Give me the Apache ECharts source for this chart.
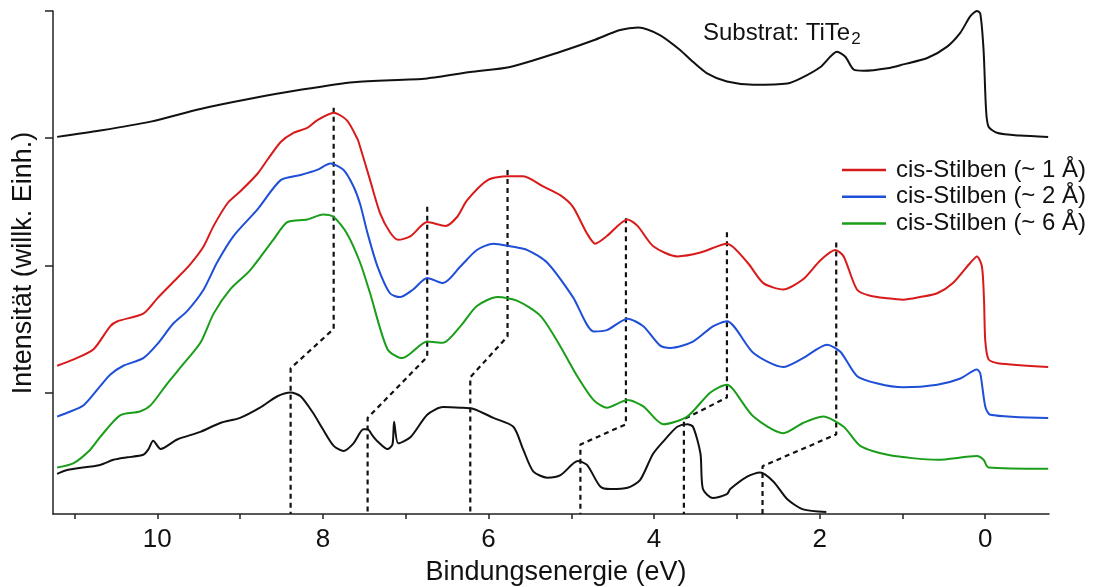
<!DOCTYPE html>
<html>
<head>
<meta charset="utf-8">
<script src="https://cdn.jsdelivr.net/npm/echarts@6/dist/echarts.min.js"></script>
<style>
  html, body { margin: 0; padding: 0; background: #fff; }
  #chart { width: 1094px; height: 587px; }
</style>
</head>
<body>
<div id="chart"></div>
<script>
// Photoemission spectra: binding energy (eV) vs. intensity (arb. units, offset per curve)

// Clean TiTe2 substrate
const substrat = [
  [11.21,2.01],[10.69,2.06],[10.08,2.13],[9.48,2.23],[8.88,2.31],[8.27,2.38],[7.63,2.44],
  [6.74,2.47],[6.22,2.52],[5.74,2.56],[5.13,2.68],[4.73,2.77],[4.41,2.85],[4.19,2.87],
  [3.93,2.81],[3.68,2.69],[3.53,2.60],[3.36,2.51],[3.12,2.445],[2.80,2.42],[2.39,2.43],
  [2.23,2.47],[1.99,2.56],[1.79,2.68],[1.69,2.64],[1.59,2.54],[1.47,2.53],[1.18,2.55],
  [0.99,2.58],[0.70,2.63],[0.46,2.72],[0.30,2.83],[0.18,2.96],[0.10,3.00],[0.06,2.98],
  [0.02,2.69],[-0.01,2.22],[-0.04,2.09],[-0.15,2.04],[-0.42,2.02],[-0.76,2.01]
];

// cis-stilbene, ~1 Å coverage
const cis1 = [
  [11.21,0.21],[11.01,0.26],[10.77,0.34],[10.57,0.52],[10.48,0.56],[10.17,0.62],[10.00,0.74],
  [9.76,0.90],[9.60,1.01],[9.44,1.15],[9.32,1.31],[9.15,1.49],[9.00,1.58],
  [8.79,1.72],[8.67,1.83],[8.51,1.97],[8.36,2.04],[8.19,2.08],[8.07,2.14],[7.87,2.20],
  [7.71,2.14],[7.58,1.99],[7.55,1.93],[7.43,1.67],[7.31,1.41],[7.19,1.26],[7.09,1.20],
  [6.94,1.23],[6.74,1.34],[6.52,1.31],[6.38,1.38],[6.26,1.51],[6.01,1.67],[5.77,1.70],
  [5.58,1.70],[5.34,1.62],[5.13,1.55],[4.98,1.46],[4.81,1.25],[4.71,1.17],[4.57,1.23],
  [4.32,1.36],[4.20,1.31],[4.01,1.15],[3.72,1.07],[3.44,1.10],[3.12,1.17],[2.87,1.02],
  [2.68,0.86],[2.44,0.81],[2.20,0.89],[1.99,1.04],[1.81,1.12],[1.71,1.07],[1.55,0.81],
  [1.39,0.76],[1.18,0.74],[0.99,0.73],[0.79,0.75],[0.58,0.78],[0.39,0.86],[0.18,1.02],
  [0.10,1.07],[0.04,0.99],[0.015,0.73],[0.0,0.41],[-0.04,0.26],[-0.15,0.23],[-0.76,0.20]
];

// cis-stilbene, ~2 Å coverage
const cis2 = [
  [11.21,-0.19],[11.09,-0.16],[10.89,-0.10],[10.69,0.05],[10.57,0.14],[10.41,0.21],[10.17,0.27],
  [10.00,0.38],[9.81,0.54],[9.64,0.64],[9.44,0.81],[9.28,1.02],[9.08,1.23],[8.79,1.44],
  [8.51,1.67],[8.27,1.71],[8.07,1.75],[7.91,1.80],[7.75,1.75],[7.63,1.62],[7.55,1.48],
  [7.46,1.25],[7.34,0.99],[7.19,0.78],[7.07,0.75],[6.91,0.81],[6.74,0.90],[6.55,0.86],
  [6.34,0.99],[6.14,1.12],[5.94,1.17],[5.74,1.15],[5.53,1.12],[5.29,1.02],[4.98,0.75],
  [4.73,0.48],[4.57,0.49],[4.32,0.58],[4.13,0.52],[3.93,0.37],[3.80,0.35],[3.53,0.40],
  [3.29,0.52],[3.12,0.56],[2.80,0.31],[2.44,0.20],[2.20,0.27],[1.91,0.375],[1.75,0.32],
  [1.55,0.13],[1.30,0.07],[0.99,0.04],[0.58,0.06],[0.30,0.11],[0.10,0.18],[0.06,0.15],
  [0.0,-0.11],[-0.06,-0.175],[-0.76,-0.20]
];

// cis-stilbene, ~6 Å coverage
const cis6 = [
  [11.21,-0.59],[11.01,-0.555],[10.81,-0.45],[10.69,-0.35],[10.45,-0.18],[10.21,-0.15],[10.08,-0.10],
  [9.88,0.07],[9.69,0.22],[9.48,0.39],[9.32,0.62],[9.12,0.81],[8.88,0.96],[8.60,1.20],
  [8.43,1.34],[8.19,1.36],[8.00,1.40],[7.87,1.38],[7.71,1.25],[7.55,1.02],[7.43,0.78],
  [7.22,0.34],[7.04,0.27],[6.74,0.40],[6.55,0.39],[6.34,0.52],[6.14,0.68],[5.89,0.75],
  [5.65,0.72],[5.37,0.60],[5.13,0.36],[4.93,0.13],[4.73,-0.06],[4.57,-0.12],[4.32,-0.06],
  [4.13,-0.11],[3.89,-0.25],[3.60,-0.19],[3.32,0.00],[3.12,0.06],[3.04,0.02],[2.80,-0.19],
  [2.44,-0.32],[2.20,-0.24],[1.96,-0.19],[1.71,-0.27],[1.51,-0.42],[1.18,-0.49],[0.58,-0.53],
  [0.10,-0.50],[0.02,-0.53],[-0.04,-0.59],[-0.76,-0.60]
];

// Reference spectrum of the free molecule
const referenz = [
  [11.21,-0.64],[11.09,-0.61],[10.69,-0.57],[10.53,-0.53],[10.36,-0.51],[10.17,-0.49],[10.11,-0.45],
  [10.05,-0.38],[9.96,-0.445],[9.76,-0.37],[9.48,-0.31],[9.24,-0.24],[9.00,-0.20],[8.76,-0.12],
  [8.55,-0.03],[8.39,0.00],[8.27,-0.03],[8.12,-0.16],[8.00,-0.29],[7.87,-0.42],[7.75,-0.46],
  [7.63,-0.40],[7.51,-0.29],[7.46,-0.29],[7.40,-0.34],[7.34,-0.385],[7.22,-0.445],[7.16,-0.41],
  [7.14,-0.23],[7.09,-0.40],[6.94,-0.35],[6.74,-0.175],[6.55,-0.115],[6.34,-0.12],[6.18,-0.13],
  [5.94,-0.20],[5.70,-0.27],[5.58,-0.45],[5.46,-0.62],[5.29,-0.67],[5.13,-0.65],[4.92,-0.54],
  [4.81,-0.57],[4.65,-0.74],[4.53,-0.76],[4.32,-0.75],[4.17,-0.69],[4.01,-0.48],[3.84,-0.35],
  [3.72,-0.27],[3.60,-0.25],[3.53,-0.27],[3.44,-0.48],[3.41,-0.76],[3.29,-0.83],[3.12,-0.80],
  [3.08,-0.76],[2.87,-0.66],[2.72,-0.63],[2.56,-0.70],[2.39,-0.84],[2.20,-0.92],[1.92,-0.94]
];

// Guide lines linking adsorbate peaks to the reference peaks
const peakGuides = [
  [[7.87,2.24],[7.87,0.50],[8.39,0.19],[8.39,-0.956]],
  [[6.74,1.46],[6.74,0.28],[7.46,-0.20],[7.46,-0.956]],
  [[5.77,1.75],[5.77,0.44],[6.22,0.12],[6.22,-0.956]],
  [[4.34,1.37],[4.34,-0.25],[4.89,-0.41],[4.89,-0.956]],
  [[3.12,1.26],[3.12,-0.04],[3.64,-0.21],[3.64,-0.956]],
  [[1.80,1.18],[1.80,-0.33],[2.69,-0.58],[2.69,-0.956]]
];

const seriesNames = ['cis-Stilben (~ 1 Å)', 'cis-Stilben (~ 2 Å)', 'cis-Stilben (~ 6 Å)'];
const xTicks = [0, 1, 2, 3, 4, 5, 6, 7, 8, 9, 10, 11];
const xLabels = [0, 2, 4, 6, 8, 10];
const yTicks = [0, 1, 2, 3];
const xRange = [-0.77, 11.26];
const yRange = [-0.956, 3.0];

const FONT = '"Liberation Sans", Arial, Helvetica, sans-serif';

function curve(name, data, color) {
  return {
    name: name, type: 'line', data: data, showSymbol: false, symbol: 'none',
    smooth: 0.25, lineStyle: { color: color, width: 2 }, itemStyle: { color: color },
    z: 3, animation: false
  };
}

const series = [
  curve('Substrat', substrat, '#111111'),
  curve(seriesNames[0], cis1, '#d91a1a'),
  curve(seriesNames[1], cis2, '#1f4fd6'),
  curve(seriesNames[2], cis6, '#1a9e1a'),
  curve('Referenz', referenz, '#111111')
];
peakGuides.forEach(function (g) {
  series.push({
    type: 'line', data: g, showSymbol: false, symbol: 'none', smooth: false,
    lineStyle: { color: '#111', width: 2.2, type: [5, 4] }, z: 2, animation: false, silent: true
  });
});

const chart = echarts.init(document.getElementById('chart'), null, { renderer: 'canvas' });
chart.setOption({
  animation: false,
  backgroundColor: '#ffffff',
  textStyle: { fontFamily: FONT },
  grid: { left: 53, right: 45, top: 11, bottom: 73, containLabel: false },
  xAxis: {
    type: 'value', inverse: true, min: xRange[0], max: xRange[1],
    axisLine: { show: true, onZero: false, lineStyle: { color: '#222', width: 1.5 } },
    axisTick: { show: true, length: 5, customValues: xTicks, lineStyle: { color: '#222', width: 1.5 } },
    axisLabel: { show: true, customValues: xLabels, margin: 13, fontSize: 26, color: '#111', fontFamily: FONT },
    splitLine: { show: false }
  },
  yAxis: {
    type: 'value', min: yRange[0], max: yRange[1],
    axisLine: { show: true, onZero: false, lineStyle: { color: '#222', width: 1.5 } },
    axisTick: { show: true, length: 8, customValues: yTicks, lineStyle: { color: '#222', width: 1.5 } },
    axisLabel: { show: false },
    splitLine: { show: false }
  },
  legend: {
    data: seriesNames,
    orient: 'vertical', left: 842, top: 158, padding: 0,
    icon: 'rect', itemWidth: 44, itemHeight: 2.5, itemGap: 2.8,
    textStyle: { fontSize: 24, color: '#111', fontFamily: FONT, lineHeight: 24, padding: [0, 0, 0, 5] }
  },
  graphic: [
    {
      type: 'text', x: 703, y: 33,
      style: {
        text: '{a|Substrat: TiTe}{s|2}',
        textVerticalAlign: 'middle', textAlign: 'left',
        rich: {
          a: { fontSize: 24, fontFamily: FONT, fill: '#111' },
          s: { fontSize: 17, fontFamily: FONT, fill: '#111', padding: [12, 0, 0, 1] }
        }
      }
    },
    {
      type: 'text', x: 556, y: 573,
      style: { text: 'Bindungsenergie (eV)', fontSize: 27, fontFamily: FONT, fill: '#111',
               textAlign: 'center', textVerticalAlign: 'middle' }
    },
    {
      type: 'text', x: 24, y: 263, rotation: Math.PI / 2,
      style: { text: 'Intensität (willk. Einh.)', fontSize: 27, fontFamily: FONT, fill: '#111',
               textAlign: 'center', textVerticalAlign: 'middle' }
    }
  ],
  series: series
});
</script>
</body>
</html>
